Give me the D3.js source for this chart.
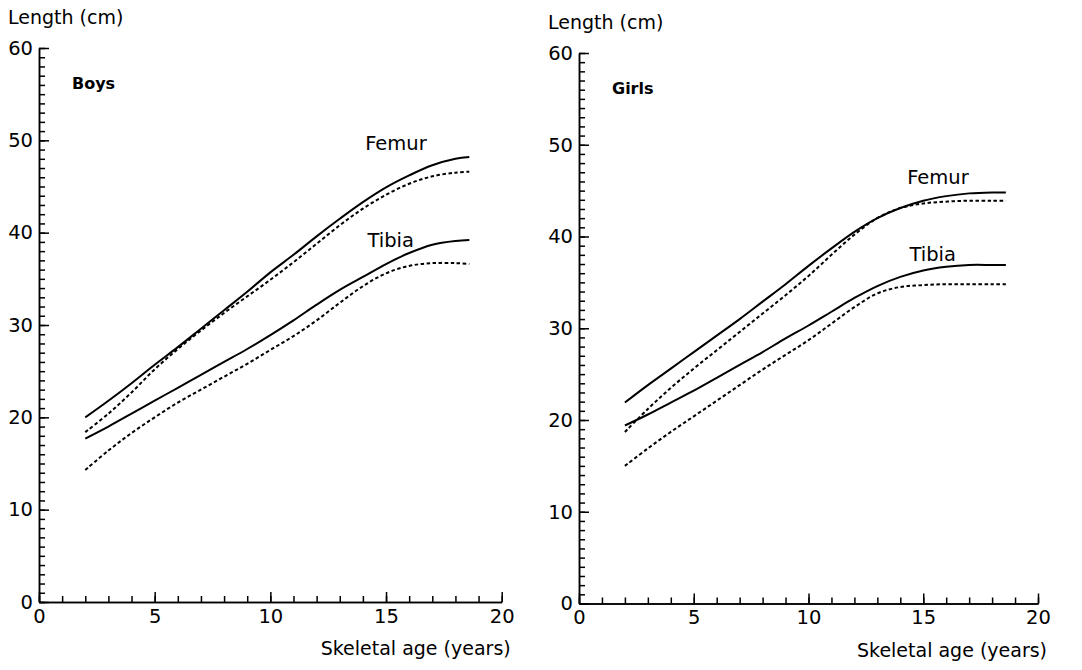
<!DOCTYPE html>
<html lang="en">
<head>
    <meta charset="UTF-8">
    <title>Femur and tibia length by skeletal age</title>
    <script src="https://cdn.jsdelivr.net/npm/d3@7"></script>
    <style>
        body { margin: 0; background: #fff; }
        svg text { font-family: "DejaVu Sans", sans-serif; fill: #000; }
        .axis path, .axis line { stroke: #000; stroke-width: 1.5; }
        .labels path { display: none; }
    </style>
</head>
<body>
    <svg id="chart" width="1082" height="670"></svg>
    <script>
        // skeletal age (years) at which the curves were read
        var ages = [2, 3, 4, 5, 6, 7, 8, 9, 10, 11, 12, 13, 14, 15, 16, 17, 18, 18.6];

        // Boys, length in cm (solid and dashed curves)
        var boysFemur      = [20.0, 21.8, 23.7, 25.7, 27.6, 29.6, 31.6, 33.6, 35.7, 37.6, 39.6, 41.5, 43.3, 44.9, 46.2, 47.3, 48.0, 48.2];
        var boysFemurDash  = [18.4, 20.4, 22.7, 25.2, 27.4, 29.4, 31.3, 33.1, 34.9, 36.8, 38.8, 40.8, 42.6, 44.1, 45.3, 46.1, 46.5, 46.6];
        var boysTibia      = [17.7, 19.0, 20.4, 21.8, 23.2, 24.6, 26.0, 27.4, 28.9, 30.5, 32.2, 33.8, 35.2, 36.6, 37.8, 38.7, 39.1, 39.2];
        var boysTibiaDash  = [14.3, 16.4, 18.3, 20.0, 21.6, 23.0, 24.4, 25.8, 27.3, 28.8, 30.5, 32.4, 34.2, 35.6, 36.4, 36.7, 36.7, 36.6];

        // Girls, length in cm
        var girlsFemur     = [21.9, 23.8, 25.6, 27.4, 29.2, 31.0, 32.9, 34.8, 36.8, 38.7, 40.5, 42.0, 43.1, 43.9, 44.4, 44.7, 44.8, 44.8];
        var girlsFemurDash = [18.7, 21.2, 23.5, 25.6, 27.6, 29.6, 31.6, 33.6, 35.7, 38.0, 40.2, 42.0, 43.1, 43.6, 43.8, 43.9, 43.9, 43.9];
        var girlsTibia     = [19.4, 20.6, 21.9, 23.2, 24.6, 26.0, 27.4, 28.9, 30.3, 31.8, 33.3, 34.6, 35.6, 36.3, 36.7, 36.9, 36.9, 36.9];
        var girlsTibiaDash = [15.0, 16.9, 18.7, 20.4, 22.1, 23.8, 25.5, 27.1, 28.7, 30.5, 32.3, 33.8, 34.5, 34.7, 34.8, 34.8, 34.8, 34.8];

        var xTicks = [0, 5, 10, 15, 20];
        var yTicks = [0, 10, 20, 30, 40, 50, 60];

        var svg = d3.select("#chart");

        function drawPanel(p) {
            var x = d3.scaleLinear().domain([0, 20]).range([p.left, p.right]);
            var y = d3.scaleLinear().domain([0, 60]).range([p.bottom, p.top]);

            var g = svg.append("g");

            // minor ticks every 1 unit, pointing into the plot
            g.append("g").attr("class", "axis")
                .attr("transform", `translate(${p.left},0)`)
                .call(d3.axisRight(y).tickValues(d3.range(0, 61)).tickSize(6).tickSizeOuter(0).tickFormat(""));
            g.append("g").attr("class", "axis")
                .attr("transform", `translate(${p.left},0)`)
                .call(d3.axisRight(y).tickValues(yTicks).tickSize(10).tickSizeOuter(0).tickFormat(""));
            g.append("g").attr("class", "axis")
                .attr("transform", `translate(0,${p.bottom})`)
                .call(d3.axisTop(x).tickValues(d3.range(0, 21)).tickSize(6).tickSizeOuter(0).tickFormat(""));
            g.append("g").attr("class", "axis")
                .attr("transform", `translate(0,${p.bottom})`)
                .call(d3.axisTop(x).tickValues(xTicks).tickSize(10).tickSizeOuter(0).tickFormat(""));

            // tick labels
            g.append("g").attr("class", "labels")
                .attr("transform", `translate(${p.left},0)`)
                .call(d3.axisLeft(y).tickValues(yTicks).tickSize(0).tickPadding(6))
                .selectAll("text").style("font-size", "19.5px").attr("font-family", null);
            g.append("g").attr("class", "labels")
                .attr("transform", `translate(0,${p.bottom})`)
                .call(d3.axisBottom(x).tickValues(xTicks).tickSize(0).tickPadding(7))
                .selectAll("text").style("font-size", "19.5px").attr("font-family", null);

            g.append("text")
                .attr("x", p.left - 31).attr("y", p.top - 24)
                .style("font-size", "19px")
                .text("Length (cm)");

            g.append("text")
                .attr("x", p.right + 9).attr("y", p.bottom + 53)
                .attr("text-anchor", "end")
                .style("font-size", "19px")
                .text("Skeletal age (years)");

            g.append("text")
                .attr("x", p.left + 33).attr("y", p.top + 41)
                .style("font-size", "16px").style("font-weight", "bold")
                .text(p.title);

            var line = d3.line()
                .x((d, i) => x(ages[i]))
                .y(d => y(d))
                .curve(d3.curveCatmullRom.alpha(0.5));

            p.series.forEach(function(s) {
                g.append("path")
                    .datum(s.values)
                    .attr("d", line)
                    .attr("fill", "none")
                    .attr("stroke", "#000")
                    .attr("stroke-width", s.dashed ? 2 : 2)
                    .attr("stroke-dasharray", s.dashed ? "3.5,2.5" : null);
            });

            p.notes.forEach(function(n) {
                g.append("text")
                    .attr("x", x(n.age)).attr("y", y(n.value))
                    .style("font-size", "19.5px")
                    .text(n.text);
            });
        }

        drawPanel({
            title: "Boys", left: 39, right: 501.7, top: 48, bottom: 602,
            series: [
                { values: boysFemur }, { values: boysFemurDash, dashed: true },
                { values: boysTibia }, { values: boysTibiaDash, dashed: true }
            ],
            notes: [ { text: "Femur", age: 14.1, value: 48.9 }, { text: "Tibia", age: 14.2, value: 38.4 } ]
        });

        drawPanel({
            title: "Girls", left: 579, right: 1038, top: 53, bottom: 603.5,
            series: [
                { values: girlsFemur }, { values: girlsFemurDash, dashed: true },
                { values: girlsTibia }, { values: girlsTibiaDash, dashed: true }
            ],
            notes: [ { text: "Femur", age: 14.3, value: 45.7 }, { text: "Tibia", age: 14.4, value: 37.3 } ]
        });
    </script>
</body>
</html>
